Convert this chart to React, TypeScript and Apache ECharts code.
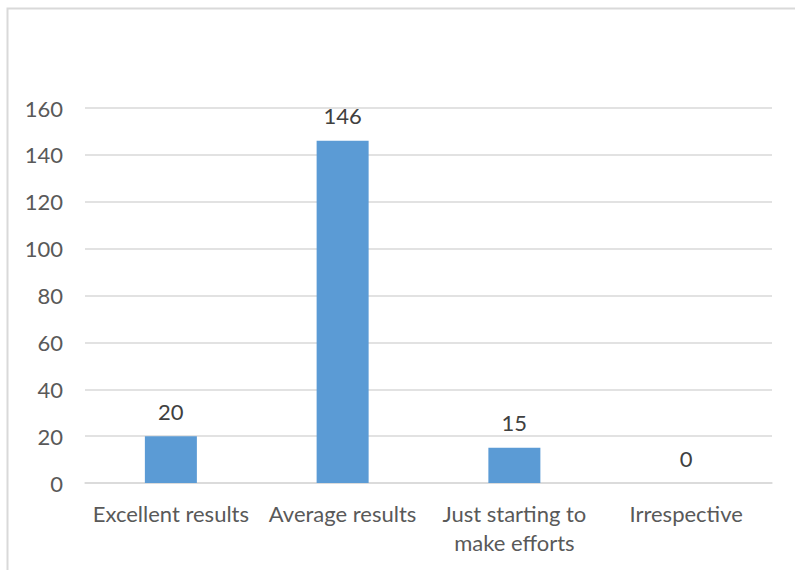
import React, { useEffect, useRef } from "react";
import * as echarts from "echarts";

const categories = ["Excellent results", "Average results", "Just starting to\nmake efforts", "Irrespective"];
const values = [20, 146, 15, 0];
const yTicks = { min: 0, max: 160, interval: 20 };

export default function App() {
  const ref = useRef<HTMLDivElement>(null);
  useEffect(() => {
    document.body.style.margin = "0";
    const chart = echarts.init(ref.current!, null, { renderer: "svg" });
    const font = "Lato, sans-serif";
    chart.setOption({
      animation: false,
      textStyle: { fontFamily: font },
      graphic: [
        {
          type: "rect",
          shape: { x: 7.5, y: 8.5, width: 820, height: 620 },
          style: { fill: "none", stroke: "#d9d9d9", lineWidth: 2 },
          silent: true,
        },
      ],
      grid: { left: 85, right: 23, top: 108, bottom: 87, containLabel: false },
      xAxis: {
        type: "category",
        data: categories,
        axisLine: { show: true, lineStyle: { color: "#d9d9d9", width: 1.5 } },
        axisTick: { show: false },
        axisLabel: { color: "#595959", fontSize: 22, fontFamily: font, margin: 16, lineHeight: 29, interval: 0 },
      },
      yAxis: {
        type: "value",
        min: yTicks.min,
        max: yTicks.max,
        interval: yTicks.interval,
        axisLine: { show: false },
        axisTick: { show: false },
        splitLine: { lineStyle: { color: "#d9d9d9", width: 1.5 } },
        axisLabel: { color: "#595959", fontSize: 22, fontFamily: font, margin: 22 },
      },
      series: [
        {
          type: "bar",
          data: values,
          barWidth: 52,
          itemStyle: { color: "#5B9BD5" },
          label: { show: true, position: "top", distance: 14, color: "#404040", fontSize: 22, fontFamily: font },
        },
      ],
    });
    return () => chart.dispose();
  }, []);
  return <div ref={ref} style={{ width: 795, height: 570 }} />;
}
